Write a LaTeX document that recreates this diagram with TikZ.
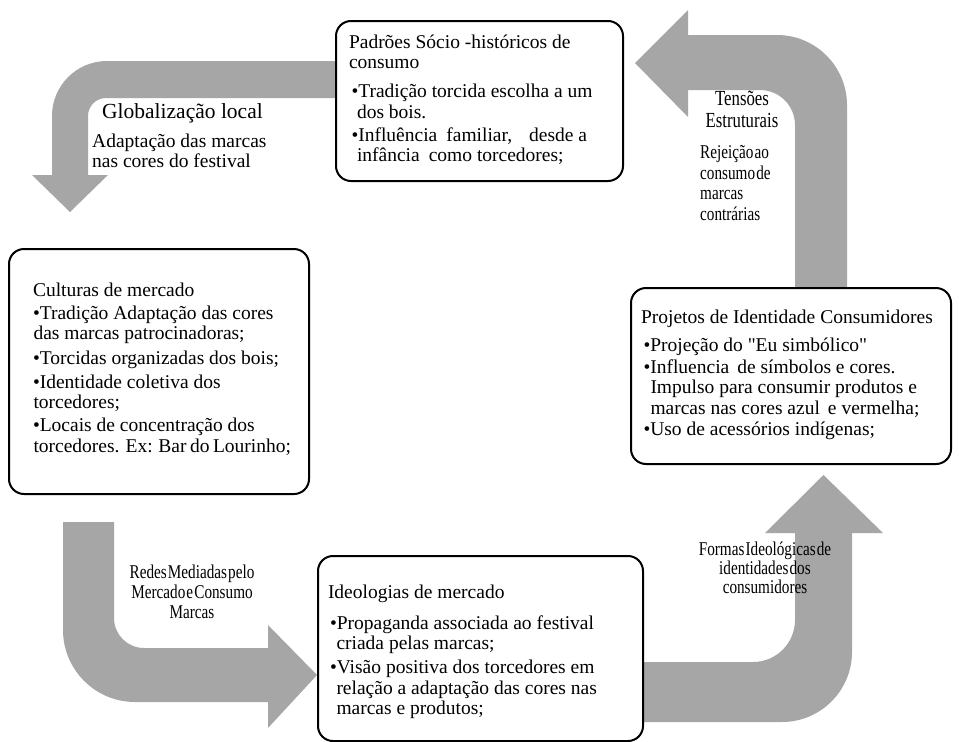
\documentclass[tikz,border=0pt]{standalone}
\usepackage{fontspec}
\setmainfont{Liberation Serif}[Ligatures=TeXOff]
\newfontfamily\condfont{Liberation Serif}[FakeStretch=0.78,WordSpace=0.3]
\definecolor{arrowgray}{RGB}{166,166,166}
\tikzset{
  boxnode/.style={draw=black, line width=2pt, rounded corners=15pt, fill=white,
    inner ysep=0pt, anchor=north west, font=\fontsize{19.5}{20.5}\selectfont},
  blockarrow/.style={fill=arrowgray, draw=none},
  lbl/.style={inner sep=0pt, font=\fontsize{19.5}{20}\selectfont},
  condlbl/.style={inner sep=0pt, align=center, anchor=north},
}
\begin{document}
\begin{tikzpicture}[x=1pt,y=-1pt]
\useasboundingbox (0,0) rectangle (959,742);
\fill[white] (0,0) rectangle (959,742);

% block arrows
\fill[blockarrow] (336,61) -- (107,61) .. controls (76.6,61) and (52,85.6) .. (52,116)
  -- (52,175) -- (32,175) -- (70,212) -- (108,175) -- (88,175) -- (88,116)
  .. controls (88,106.1) and (96.1,98) .. (106,98) -- (336,98) -- cycle;
\fill[blockarrow] (635,63) -- (688,10) -- (688,35) -- (777,35)
  .. controls (815.6,35) and (847,66.4) .. (847,105) -- (847,288) -- (795,288) -- (795,125)
  .. controls (795,105.7) and (779.3,90) .. (760,90) -- (688,90) -- (688,117) -- cycle;
\fill[blockarrow] (63,522) -- (114,522) -- (114,618)
  .. controls (114,634.6) and (127.4,648) .. (144,648) -- (268,648) -- (268,625)
  -- (317,675) -- (268,728) -- (268,702) -- (135,702)
  .. controls (95.3,702) and (63,669.7) .. (63,630) -- cycle;
\fill[blockarrow] (641,662) -- (753,662) .. controls (776.2,662) and (795,643.2) .. (795,620)
  -- (795,533) -- (765,533) -- (823.5,475) -- (883,533) -- (852,533) -- (852,652)
  .. controls (852,690.6) and (820.6,722) .. (782,722) -- (641,722) -- cycle;

% boxes
\node[boxnode, inner xsep=13pt] (padroes) at (335,20) {\parbox[c][160pt][t]{261pt}{\rule{0pt}{27pt}Padrões Sócio -históricos de\\
consumo\\[8.5pt]
\hspace*{2.5pt}•Tradição torcida escolha a um\\
\hspace*{8pt}dos bois.\\[2.5pt]
\hspace*{2.5pt}•Influência\hspace{9pt}familiar,\hspace{17pt}desde a\\
\hspace*{8pt}infância\hspace{9pt}como torcedores;}};

\node[boxnode, inner xsep=18pt] (culturas) at (8,248) {\parbox[c][245pt][t]{264pt}{\rule{0pt}{47pt}\hspace*{6pt}Culturas de mercado\\[2.5pt]
\hspace*{6pt}•Tradição Adaptação das cores\\
\hspace*{6.5pt}das marcas patrocinadoras;\\[4pt]
\hspace*{6pt}•Torcidas organizadas dos bois;\\[3.5pt]
\hspace*{6pt}•Identidade coletiva dos\\
\hspace*{6.5pt}torcedores;\\[2.5pt]
\hspace*{6pt}•Locais de concentração dos\\
\hspace*{6.5pt}torcedores. Ex: Bar do Lourinho;}};

\node[boxnode, inner xsep=10pt] (projetos) at (630,287) {\parbox[c][176pt][t]{300pt}{\rule{0pt}{35pt}Projetos de Identidade Consumidores\\[7.5pt]
\hspace*{2.5pt}•Projeção do "Eu simbólico"\\[1.5pt]
\hspace*{2.5pt}•Influencia\hspace{8pt}de símbolos e cores.\\
\hspace*{9.5pt}Impulso para consumir produtos e\\
\hspace*{9.5pt}marcas nas cores azul\hspace{8pt}e vermelha;\\[0.5pt]
\hspace*{2.5pt}•Uso de acessórios indígenas;}};

\node[boxnode, inner xsep=10pt] (ideologias) at (317,555) {\parbox[c][185pt][t]{305pt}{\rule{0pt}{42pt}Ideologias de mercado\\[10.5pt]
\hspace*{2pt}•Propaganda associada ao festival\\
\hspace*{8.5pt}criada pelas marcas;\\[3.5pt]
\hspace*{2pt}•Visão positiva dos torcedores em\\
\hspace*{8.5pt}relação a adaptação das cores nas\\
\hspace*{8.5pt}marcas e produtos;}};

% arrow labels
\node[lbl, anchor=base west, font=\fontsize{21.5}{24}\selectfont] (globtitle) at (102,118) {Globalização local};
\node[lbl, anchor=north west, align=left] (globtext) at (92,131) {\rule{0pt}{16pt}Adaptação das marcas\\nas cores do festival};

\node[condlbl, font={\condfont\fontsize{21.5}{22}\selectfont}] (tensoes) at (742,89) {\rule{0pt}{16pt}Tensões\\Estruturais};
\node[lbl, anchor=north west, align=left, font={\condfont\fontsize{19.5}{20.8}\selectfont}] (rejeicao) at (700,142) {\rule{0pt}{16pt}Rejeição ao\\consumo de\\marcas\\contrárias};

\node[condlbl, font={\condfont\fontsize{19.5}{20}\selectfont}] (redes) at (192,562) {\rule{0pt}{16pt}Redes Mediadas pelo\\Mercado e Consumo\\Marcas};
\node[condlbl, font={\condfont\fontsize{19.5}{19}\selectfont}] (formas) at (765,539) {\rule{0pt}{16pt}Formas Ideológicas de\\identidades dos\\consumidores};
\end{tikzpicture}
\end{document}
